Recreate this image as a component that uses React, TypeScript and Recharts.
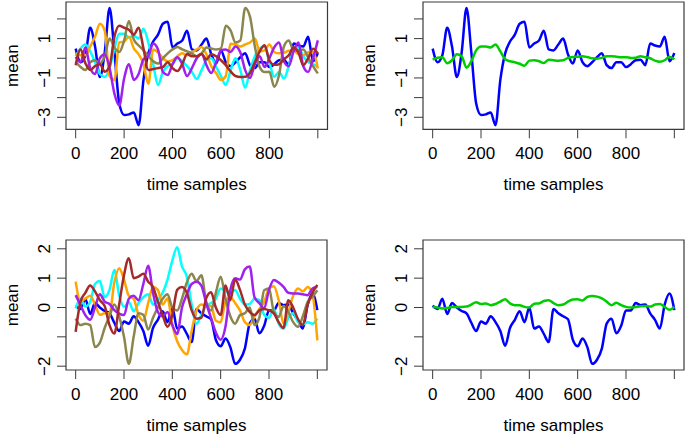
import React from 'react'
import { LineChart, Line, XAxis, YAxis, ReferenceArea, Label } from 'recharts'

// time samples, every 20th sample
const timeSamples = Array.from({ length: 51 }, (_, i) => i * 20)
const xTicks = [0, 200, 400, 600, 800, 1000]
const xTickLabels = [0, 200, 400, 600, 800]

const topTicks = [-3, -2, -1, 0, 1, 2]
const topTickLabels = [-3, -1, 1]
const bottomTicks = [-2, -1, 0, 1, 2]
const bottomTickLabels = [-2, 0, 1, 2]

// upper row
const topBlue = [0.49, -0.2, 0.15, 1.55, 0.6, -0.95, 0.3, 2.55, 0.3, -2.3, -2.88, -2.85, -2.75, -3.4, -1.1, 0.25, 0.85, 1.2, 1.75, 1.85, 0.55, 0.75, 0.9, 1.4, 0.45, 0.4, 0.7, 1.0, 0.2, -0.27, 0.4, -0.2, -0.4, -0.2, 0.05, 0.25, -0.35, -0.5, -0.2, -0.2, -0.45, -0.3, -0.1, -0.07, -0.35, 0.75, 0.65, 0.6, 1.1, -0.15, 0.27]
const topGreen = [-0.07, 0.03, 0.05, -0.25, -0.1, 0.2, 0.1, -0.48, -0.15, 0.4, 0.6, 0.6, 0.55, 0.7, 0.35, -0.05, -0.15, -0.2, -0.28, -0.38, -0.12, -0.1, -0.15, -0.24, -0.08, -0.1, -0.12, -0.1, 0.02, 0.06, 0.08, 0.1, 0.06, 0.0, -0.02, 0.02, 0.1, 0.1, 0.08, 0.05, 0.05, 0.02, 0.03, 0.1, 0.05, 0.0, -0.12, -0.18, -0.1, 0.08, -0.05]
const topOrange = [0.24, 0.15, 0.15, 0.6, 1.1, 1.75, 1.4, -0.9, -1.1, 0.8, 0.85, 1.1, 0.5, 0.2, -0.3, -1.3, 0.45, 0.3, 0.0, -0.15, -0.1, 0.1, 0.25, 0.15, 0.3, 0.45, 0.57, 0.2, -0.4, -0.75, -1.1, -0.9, 0.74, 0.7, 0.6, 0.7, 0.8, 1.0, 0.35, 0.4, 0.7, 0.32, 0.25, 0.28, 0.38, 0.38, 0.2, 0.15, 0.3, 0.3, -0.52]
const topBrown = [-0.35, 0.45, -0.25, -0.6, -0.4, -0.3, -0.68, -0.4, 1.1, 1.65, 1.55, 1.45, 1.2, 1.55, 0.5, -0.6, -0.55, -0.5, -0.45, -0.2, -0.5, -0.65, -0.3, 0.22, 0.1, 0.1, 0.22, -0.05, 0.2, 0.1, -0.1, -0.35, -0.67, -0.9, -0.95, -0.94, -0.75, -0.2, 0.35, 0.66, -0.1, -0.33, -0.3, -0.05, 0.15, 0.55, 0.3, -0.35, 0.0, 0.49, 0.24]
const topPurple = [0.07, -0.2, 0.55, -0.5, -0.8, 0.0, 0.2, -0.5, -1.8, -2.4, -1.03, -0.3, -1.1, -0.8, -0.05, 0.12, 0.75, 0.45, -0.7, -0.85, -0.3, 0.05, -0.3, -0.9, -0.5, 0.0, 0.22, -0.35, -0.75, -0.2, 0.4, 0.45, 0.32, 0.6, 0.3, -0.6, -1.0, -0.3, 0.1, -0.44, 0.0, 0.55, 0.8, -0.15, -0.4, 0.35, 0.8, -0.4, -0.69, -0.02, 0.91]
const topCyan = [0.1, 0.5, 0.7, 0.35, -0.2, -0.8, -0.95, -0.5, 0.5, 1.25, 1.25, 1.05, 1.15, 1.0, 1.5, 0.8, -0.3, -1.36, -0.7, -0.4, -0.3, 0.0, -0.15, -0.4, -0.7, -1.05, -0.6, -0.1, 0.0, -0.44, -0.9, -1.36, -0.6, 0.0, -0.6, -1.5, -0.6, 0.1, 0.5, 0.6, -0.2, -0.94, -0.7, -1.03, -0.4, 0.4, 0.55, 0.1, -0.19, -0.3, -0.44]
const topOlive = [-0.19, -0.44, -0.6, -0.2, -0.1, -0.25, 0.1, 1.0, 0.55, 0.32, 0.9, 1.9, 0.95, 0.65, 0.4, 0.1, -0.15, -0.27, 0.0, 0.25, 0.45, 0.57, 0.45, 0.35, 0.25, 0.1, 0.25, 0.55, 0.5, 0.45, 0.5, 1.65, 1.4, 0.8, 0.9, 2.55, 2.1, 0.6, -0.45, -0.7, -0.69, -1.45, -0.85, 0.6, 0.9, 0.4, 0.4, 0.45, 0.05, -0.4, -0.77]

// lower row
const bottomBlue = [0.06, -0.05, 0.3, -0.22, 0.15, 0.0, -0.12, -0.2, -0.52, -0.8, -0.48, -0.55, -0.3, -0.5, -0.8, -1.3, -0.7, -0.42, -0.13, -0.5, 0.0, -0.72, -0.65, -0.9, -1.18, -0.05, -0.2, -0.3, -0.4, -1.1, -1.32, -1.06, -1.35, -1.92, -1.78, -1.4, -0.55, -0.38, -0.88, -0.62, -0.1, -0.1, 0.15, 0.08, 0.1, -0.2, -0.42, -0.72, 0.1, 0.48, -0.09]
const bottomGreen = [0.02, 0.0, -0.03, -0.02, 0.02, 0.02, 0.02, 0.03, 0.1, 0.18, 0.12, 0.14, 0.08, 0.12, 0.2, 0.28, 0.14, 0.08, 0.08, 0.02, 0.0, 0.13, 0.14, 0.22, 0.25, 0.15, 0.08, 0.1, 0.2, 0.27, 0.28, 0.24, 0.36, 0.39, 0.37, 0.31, 0.2, 0.08, 0.16, 0.08, 0.02, 0.0, 0.02, 0.04, 0.05, 0.03, 0.1, 0.12, 0.02, -0.08, 0.02]
const bottomCyan = [-0.03, 0.3, 0.03, 0.18, 0.8, 0.9, 0.35, 0.6, 1.28, 0.42, 0.02, 0.19, -0.13, 0.15, 0.35, 0.45, 0.1, 0.25, 0.5, 0.95, 1.6, 2.05, 1.4, 1.05, 0.1, -0.55, -0.25, 0.05, 0.15, 0.3, 0.65, 0.55, 0.5, 0.6, 0.3, 0.1, 0.12, 0.3, 0.25, -0.25, -0.35, -0.05, -0.55, -0.72, -0.35, -0.2, -0.5, -0.58, -0.5, -0.55, -0.38]
const bottomOrange = [0.88, 0.2, 0.3, 0.4, 0.1, -0.25, -0.2, -0.2, 0.85, 1.34, 0.95, 0.4, 0.3, -0.25, -0.45, 0.15, 0.7, 0.6, 0.1, 0.31, -0.6, -1.15, -1.45, -1.6, -0.8, -0.1, 0.1, 0.05, 0.05, -0.45, -0.5, 0.2, 0.35, 0.15, -0.1, -0.5, -0.6, -0.3, -0.05, 0.19, 0.65, 0.72, 0.25, -0.55, -0.15, 0.4, 0.65, 0.55, 0.7, 0.45, -1.12]
const bottomOlive = [-0.38, -0.6, -0.55, -0.6, -1.35, -1.2, -0.7, -0.3, 0.1, -0.3, -1.0, -1.92, -1.0, -0.2, -0.25, -0.75, -0.35, 0.0, 0.3, 0.45, 0.0, -0.1, 0.3, 0.85, 1.15, 0.9, 1.1, 0.2, -0.1, 0.5, 1.05, 0.3, -0.3, -0.55, -0.26, -0.2, 0.0, -0.6, -0.35, 0.59, 0.65, -0.15, -0.32, 0.05, -0.15, -0.5, -0.66, -0.3, 0.19, 0.37, 0.59]
const bottomPurple = [0.42, 0.08, -0.26, -0.42, 0.0, 0.45, 0.2, 0.12, -0.09, -0.21, -0.26, 0.3, 0.4, 0.25, 0.8, 1.42, 0.5, -0.15, -0.3, -0.15, -0.6, -0.9, 0.0, 0.45, 0.8, 0.88, 0.75, 0.15, -0.35, -0.85, -1.1, -0.65, 0.6, 1.0, 0.95, 1.3, 1.4, 0.35, 0.15, -0.03, 0.6, 0.94, 0.85, 0.7, 0.5, 0.48, 0.48, 0.45, 0.42, 0.65, 0.71]
const bottomBrown = [-0.83, 0.2, 0.5, 0.75, 0.55, 0.25, 0.05, -0.6, -0.89, 0.1, 1.1, 1.68, 1.0, 1.05, 1.15, 0.88, 0.7, 0.2, -0.26, -0.66, -0.26, 0.6, 0.7, 0.5, -0.1, -0.38, -0.35, 0.31, 0.52, 0.0, -0.26, 0.75, 0.25, 0.95, 0.6, 0.1, -0.15, -0.26, -0.1, -0.05, -0.1, -0.2, -0.5, -0.7, 0.25, 0.0, -0.4, -0.6, 0.1, 0.5, 0.77]

const FONT = '"Liberation Sans", Arial, Helvetica, sans-serif'
const INK = '#3a3a3a'
const COLORS: Record<string, string> = {
  blue: '#0000ff',
  cyan: '#00ffff',
  orange: '#ffa500',
  olive: '#8b864e',
  purple: '#a020f0',
  brown: '#a52a2a',
  green: '#00cd00',
}

const topAll = timeSamples.map((t, i) => ({
  t,
  blue: topBlue[i],
  cyan: topCyan[i],
  orange: topOrange[i],
  olive: topOlive[i],
  purple: topPurple[i],
  brown: topBrown[i],
}))
const topPair = timeSamples.map((t, i) => ({ t, blue: topBlue[i], green: topGreen[i] }))
const bottomAll = timeSamples.map((t, i) => ({
  t,
  blue: bottomBlue[i],
  cyan: bottomCyan[i],
  orange: bottomOrange[i],
  olive: bottomOlive[i],
  purple: bottomPurple[i],
  brown: bottomBrown[i],
}))
const bottomPair = timeSamples.map((t, i) => ({ t, blue: bottomBlue[i], green: bottomGreen[i] }))

const fmt = (v: number) => (v < 0 ? '\u2212' + Math.abs(v) : String(v))

// plot box sits at (65, 2) inside each chart svg
const PL = 65
const PT = 2

interface PanelProps {
  left: number
  top: number
  w: number
  h: number
  yDomain: [number, number]
  yTicks: number[]
  yLabels: number[]
  rows: any[]
  keys: string[]
}

function Panel({ left, top, w, h, yDomain, yTicks, yLabels, rows, keys }: PanelProps) {
  const bottom = PT + h
  const textStyle = { fontFamily: FONT, fontSize: 17, fill: '#000' }

  const xTick = (props: any) => {
    const v = props.payload.value
    if (!xTickLabels.includes(v)) return <g />
    return (
      <text x={props.x} y={bottom + 24} dy="0.36em" textAnchor="middle" style={textStyle}>
        {fmt(v)}
      </text>
    )
  }

  const yTick = (props: any) => {
    const v = props.payload.value
    if (!yLabels.includes(v)) return <g />
    const cx = PL - 22
    return (
      <text
        x={cx}
        y={props.y}
        dy="0.36em"
        textAnchor="middle"
        transform={`rotate(-90, ${cx}, ${props.y})`}
        style={textStyle}
      >
        {fmt(v)}
      </text>
    )
  }

  return (
    <div style={{ position: 'absolute', left: left - PL, top: top - PT }}>
      <LineChart
        width={PL + w + 15}
        height={PT + h + 66}
        data={rows}
        margin={{ top: PT, right: 15, bottom: 0, left: 0 }}
      >
        <XAxis
          dataKey="t"
          type="number"
          domain={[-40, 1040]}
          ticks={xTicks}
          interval={0}
          allowDataOverflow
          height={66}
          axisLine={false}
          tickSize={9}
          tickLine={{ stroke: INK, strokeWidth: 1 }}
          tick={xTick}
        >
          <Label
            content={() => (
              <text x={PL + w / 2} y={bottom + 54.5} dy="0.36em" textAnchor="middle" style={textStyle}>
                time samples
              </text>
            )}
          />
        </XAxis>
        <YAxis
          type="number"
          domain={yDomain}
          ticks={yTicks}
          interval={0}
          allowDataOverflow
          width={PL}
          axisLine={false}
          tickSize={9}
          tickLine={{ stroke: INK, strokeWidth: 1 }}
          tick={yTick}
        >
          <Label
            content={() => (
              <text
                x={11}
                y={PT + h / 2}
                dy="0.36em"
                textAnchor="middle"
                transform={`rotate(-90, 11, ${PT + h / 2})`}
                style={textStyle}
              >
                mean
              </text>
            )}
          />
        </YAxis>
        <ReferenceArea
          x1={-40}
          x2={1040}
          y1={yDomain[0]}
          y2={yDomain[1]}
          fill="none"
          stroke={INK}
          strokeWidth={1.2}
          ifOverflow="visible"
        />
        {keys.map((k) => (
          <Line
            key={k}
            dataKey={k}
            type="monotone"
            stroke={COLORS[k]}
            strokeWidth={2.5}
            dot={false}
            activeDot={false}
            isAnimationActive={false}
          />
        ))}
      </LineChart>
    </div>
  )
}

const sixKeys = ['blue', 'cyan', 'orange', 'olive', 'purple', 'brown']
const pairKeys = ['blue', 'green']

export default function App() {
  const topDomain: [number, number] = [-3.61, 2.86]
  const bottomDomain: [number, number] = [-2.13, 2.3]
  return (
    <div
      style={{
        position: 'absolute',
        left: 0,
        top: 0,
        width: 685,
        height: 434,
        background: '#fff',
        fontFamily: FONT,
        overflow: 'hidden',
      }}
    >
      <Panel left={65.5} top={2} w={261.5} h={127.3} yDomain={topDomain} yTicks={topTicks} yLabels={topTickLabels} rows={topAll} keys={sixKeys} />
      <Panel left={423.3} top={2} w={261} h={127.3} yDomain={topDomain} yTicks={topTicks} yLabels={topTickLabels} rows={topPair} keys={pairKeys} />
      <Panel left={65.5} top={240} w={261} h={130} yDomain={bottomDomain} yTicks={bottomTicks} yLabels={bottomTickLabels} rows={bottomAll} keys={sixKeys} />
      <Panel left={423.3} top={240} w={261} h={130} yDomain={bottomDomain} yTicks={bottomTicks} yLabels={bottomTickLabels} rows={bottomPair} keys={pairKeys} />
    </div>
  )
}
